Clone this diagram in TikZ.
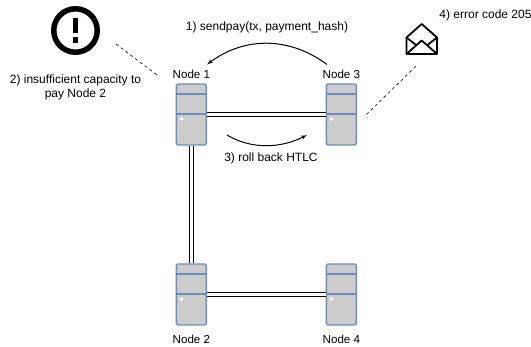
\documentclass[tikz,border=0pt]{standalone}
\usepackage{fontspec}
\setmainfont{Liberation Sans}
\usetikzlibrary{arrows}

\definecolor{srvblue}{RGB}{108,142,191}
\definecolor{srvgray}{RGB}{204,204,204}

\begin{document}
\begin{tikzpicture}[x=1pt,y=-1pt]
  \tikzset{
    server/.style={draw=srvblue, fill=srvgray, line width=1.4pt, rounded corners=1.5pt,
      minimum width=30pt, minimum height=61pt, inner sep=0pt, node distance=150pt,
      path picture={
        \draw [srvblue, line width=1.4pt] ([yshift=-10pt]path picture bounding box.north west)--([yshift=-10pt]path picture bounding box.north east);
        \draw [srvblue, line width=1.4pt] ([yshift=-30pt]path picture bounding box.north west)--([yshift=-30pt]path picture bounding box.north east);
        \fill [white] ([xshift=5pt,yshift=-35pt]path picture bounding box.north west) circle (1.9pt);
      }},
    nodelabel/.style={font=\fontsize{11.6pt}{13pt}\selectfont, node distance=40.5pt},
    txt/.style={font=\fontsize{12pt}{14pt}\selectfont, align=center},
    link/.style={draw, line width=1pt, double=white, double distance=3pt},
    note/.style={draw, dashed, line width=0.6pt},
    line/.style={draw, line width=1pt, -latex'},
  }
  \useasboundingbox (0,0) rectangle (531,347);

  \node [server] at (191.4,114.5) (n1) {};
  \node [server, right of = n1] (n3) {};
  \node [server, below of = n1, node distance=180pt] (n2) {};
  \node [server, right of = n2] (n4) {};

  \node [nodelabel, above of = n1] (ln1) {Node 1};
  \node [nodelabel, above of = n3] (ln3) {Node 3};
  \node [nodelabel, below of = n2, node distance=45pt] (ln2) {Node 2};
  \node [nodelabel, below of = n4, node distance=45pt] (ln4) {Node 4};

  \path [link] (n1)--(n3);
  \path [link] (n1)--(n2);
  \path [link] (n2)--(n4);

  % alert icon
  \node [draw, circle, line width=5.5pt, minimum size=43.5pt, inner sep=0pt] at (75.5,30.5) (alert) {};
  \node [fill, inner sep=0pt, minimum width=5.6pt, minimum height=15pt] at (75.5,25.5) (bar) {};
  \node [fill, inner sep=0pt, minimum width=5.6pt, minimum height=6pt] at (75.5,39.7) (dot) {};

  % envelope icon
  \coordinate (tl) at (406.5,37.5);
  \coordinate (tr) at (437,37.5);
  \coordinate (bl) at (406.5,54);
  \coordinate (br) at (437,54);
  \draw [line width=1.8pt, line join=round] (tl)--(421.7,24)--(tr)--(br)--(bl)--cycle;
  \draw [line width=1.8pt, line join=round] (bl)--(421.7,40.5)--(br);
  \draw [line width=1.8pt] (tl)--(416,45);
  \draw [line width=1.8pt] (tr)--(427.5,45);

  \node [txt] at (75.5,87) (t2) {2) insufficient capacity to\\pay Node 2};
  \node [txt] at (267,27) (t1) {1) sendpay(tx, payment\_hash)};
  \node [txt] at (271,158) (t3) {3) roll back HTLC};
  \node [txt] at (485.5,15) (t4) {4) error code 205};

  \coordinate (a1s) at (327,64.5);
  \coordinate (a1e) at (207,64.5);
  \coordinate (a3s) at (227,135);
  \coordinate (a3e) at (307,135);
  \path [line] (a1s) .. controls (290,37) and (245,36) .. (a1e);
  \path [line] (a3s) .. controls (250,149) and (280,149) .. (a3e);

  \coordinate (d1s) at (116,44);
  \coordinate (d1e) at (157,75);
  \coordinate (d2s) at (366.5,114.5);
  \coordinate (d2e) at (416,66);
  \path [note] (d1s)--(d1e);
  \path [note] (d2s)--(d2e);
\end{tikzpicture}
\end{document}
